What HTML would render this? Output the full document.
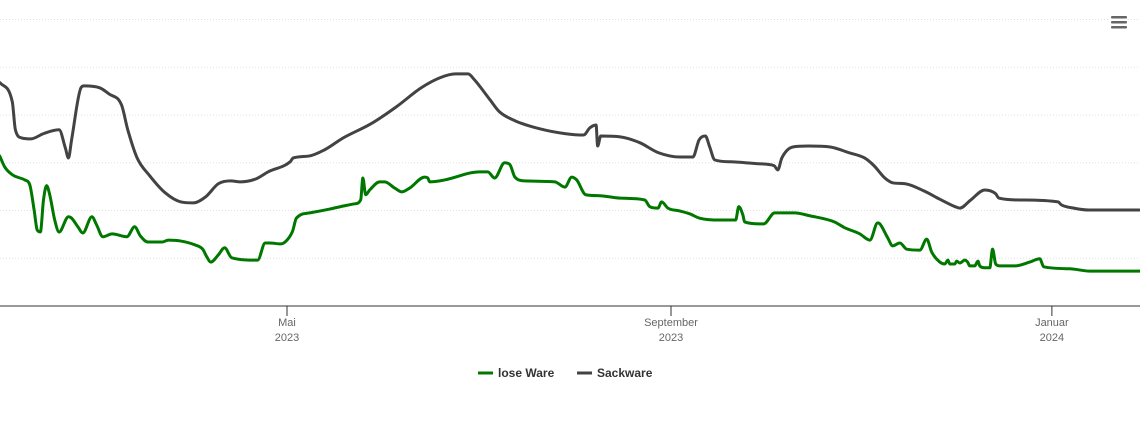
<!DOCTYPE html>
<html><head><meta charset="utf-8"><style>
body{margin:0;background:#fff;font-family:"Liberation Sans",sans-serif}
svg{display:block}
</style></head><body>
<svg id="chart" width="1140" height="434" xmlns="http://www.w3.org/2000/svg">
<g id="grid"></g>
<g id="series"></g>
<g id="xaxis"></g>
<g>
<rect x="1110" y="15" width="18" height="14" fill="#fff"/>
<rect x="1111" y="16" width="16" height="2.5" rx="1" fill="#666"/>
<rect x="1111" y="21" width="16" height="2.5" rx="1" fill="#666"/>
<rect x="1111" y="26" width="16" height="2.5" rx="1" fill="#666"/>
</g>
<g>
<g>
<line x1="478" y1="373" x2="493" y2="373" stroke="#007800" stroke-width="3"/>
<text x="498" y="377" font-size="12" font-weight="bold" fill="#333">lose Ware</text></g>
<g>
<line x1="577" y1="373" x2="592" y2="373" stroke="#434343" stroke-width="3"/>
<text x="597" y="377" font-size="12" font-weight="bold" fill="#333">Sackware</text></g>
</g>
</svg>
<script>
// days relative to 1 May 2023; values in chart units
const sackDays=[-92,-88,-87,-85,-82,-78,-73,-71,-70,-69,-66,-65,-60,-57,-53,-51,-48,-44,-39,-34,-30,-26,-22,-18,-15,-10,-6,1,2,7,12,18,27,35,43,49,54,58,60,65,68,73,81,89,95,97,99,99.5,100.5,107,113,119,126,130,132,134,135.4,137,142,151,156,157.2,158.5,162,167,174,180,185,188,191.5,194,198,204,209,214,215.5,219,223.5,227,228,235,247,248,252,257,273];
const sackVals=[46.8,42.8,36.9,35.2,35.0,36.1,36.9,33.1,31.0,34.8,45.7,46.1,45.7,44.4,42.1,36.9,31.0,27.3,23.7,21.8,21.6,22.9,25.6,26.2,26.0,26.6,28.1,30.2,31.0,31.4,32.7,35.2,38.2,41.7,45.7,47.8,48.6,48.6,47.4,43.2,40.7,38.8,37.1,36.1,35.8,37.3,37.9,33.5,35.6,35.4,34.2,32.1,31.2,31.2,34.8,35.6,33.3,30.6,30.2,29.8,29.4,28.5,31.0,33.3,33.5,33.3,32.1,31.0,29.4,26.8,25.8,25.6,24.1,22.4,20.8,20.5,22.2,24.3,23.5,22.6,22.2,21.8,21.2,20.5,20.1,20.1];
const loseDays=[-92,-90.4,-88,-84,-82.4,-81,-80,-79,-78,-77,-76,-74.4,-73,-70,-69,-67,-65.4,-62.5,-61,-59,-56,-51.3,-48.8,-47,-44.6,-40,-38,-34,-29.5,-27,-25.7,-24.4,-22,-20,-17.7,-9.4,-7,-5.5,-2,0,1.8,3,7.3,13.7,18.5,21.7,23.6,24.3,25.2,26.5,29.7,31.3,34.5,36.8,39.3,44.1,45.1,45.7,50.5,61.7,64.3,66.5,69.7,71.4,73,76.2,85.8,89,91.2,92.8,95.7,100.2,106.6,114.6,116.2,118.8,120,122,125.8,129,132.2,138.6,143.7,144.7,146,146.6,151.4,152.7,156.2,162.6,167.4,175.4,178.6,183.5,186.7,189.2,189.9,192.4,194,196.3,198.5,202.7,204.9,206.5,209.1,210.7,211.7,212.3,213.9,214.5,215.5,217.1,218,218.7,220.3,221.3,221.9,223.5,225.1,226,227,228.3,233.1,237.9,241.1,242.4,250.7,257.1,273];
const loseVals=[31.4,29.1,27.5,26.4,25.4,20.1,15.9,15.5,22.2,25.2,23.3,18.0,15.5,18.7,18.4,16.6,15.3,18.7,17.0,14.5,15.1,14.5,16.6,14.7,13.4,13.4,13.8,13.6,12.8,11.9,10.3,9.2,10.7,12.2,10.1,9.6,13.2,13.2,13.0,13.8,15.7,18.4,19.5,20.3,21.0,21.4,22.2,26.8,23.3,24.3,26.0,26.0,24.7,23.9,24.7,27.0,26.8,26.0,26.4,28.1,28.1,26.8,30.0,29.6,27.0,26.2,26.0,24.9,27.0,26.4,23.3,23.1,22.6,22.2,20.8,20.5,21.8,20.5,19.9,19.3,18.4,18.0,18.0,20.8,19.1,17.6,17.2,17.2,19.5,19.5,18.9,17.6,16.4,15.1,13.8,17.4,17.2,14.3,12.6,13.2,11.9,11.7,14.0,11.3,9.2,8.8,9.6,8.8,8.8,9.4,9.0,9.6,9.2,8.4,8.4,9.4,8.4,8.0,8.0,11.9,8.8,8.4,8.4,9.2,9.9,8.2,7.8,7.3,7.3];
const gridVals=[10,20,30,40,50,60];
const tickDays=[0,123,245];
const tickMonths=["Mai","September","Januar"];
const tickYears=["2023","2023","2024"];

const NS="http://www.w3.org/2000/svg";
const xS=d=>287+d*3.122;
const yS=v=>306-v*4.775;
function mk(tag,attrs,parent){const e=document.createElementNS(NS,tag);for(const k in attrs)e.setAttribute(k,attrs[k]);parent.appendChild(e);return e;}
const grid=document.getElementById('grid');
gridVals.forEach(v=>{const l=mk('line',{x1:0,x2:1140,y1:yS(v),y2:yS(v),stroke:'#e0e0e0','stroke-dasharray':'1,2'},grid);

});
const xa=document.getElementById('xaxis');
const ax=mk('line',{x1:0,x2:1140,y1:306,y2:306,stroke:'#333','stroke-width':1},xa);


tickDays.forEach((d,i)=>{const x=xS(d);
const t=mk('line',{x1:x,x2:x,y1:306,y2:316,stroke:'#333'},xa);


const a=mk('text',{x:x,y:326,'text-anchor':'middle','font-size':11,fill:'#666'},xa);a.textContent=tickMonths[i];


const b=mk('text',{x:x,y:341,'text-anchor':'middle','font-size':11,fill:'#666'},xa);b.textContent=tickYears[i];

});
function monotone(xs,ys){const n=xs.length,m=[],d=[];
for(let i=0;i<n-1;i++)d.push((ys[i+1]-ys[i])/(xs[i+1]-xs[i]));
m[0]=d[0];m[n-1]=d[n-2];
for(let i=1;i<n-1;i++){m[i]=(d[i-1]*d[i]<=0)?0:(d[i-1]+d[i])/2;}
for(let i=0;i<n-1;i++){if(d[i]===0){m[i]=0;m[i+1]=0;continue;}const a=m[i]/d[i],b=m[i+1]/d[i],s=a*a+b*b;if(s>9){const t=3/Math.sqrt(s);m[i]=t*a*d[i];m[i+1]=t*b*d[i];}}
let p='M'+xs[0]+','+ys[0];
for(let i=0;i<n-1;i++){const h=(xs[i+1]-xs[i])/3;p+=' C'+(xs[i]+h)+','+(ys[i]+m[i]*h)+' '+(xs[i+1]-h)+','+(ys[i+1]-m[i+1]*h)+' '+xs[i+1]+','+ys[i+1];}
return p;}
const sg=document.getElementById('series');
[[sackDays,sackVals,'#434343','series-sackware'],[loseDays,loseVals,'#007800','series-lose-ware']].forEach(s=>{
const p=mk('path',{d:monotone(s[0].map(xS),s[1].map(yS)),fill:'none',stroke:s[2],'stroke-width':3,'stroke-linejoin':'round','stroke-linecap':'round'},sg);

});
</script>
</body></html>
